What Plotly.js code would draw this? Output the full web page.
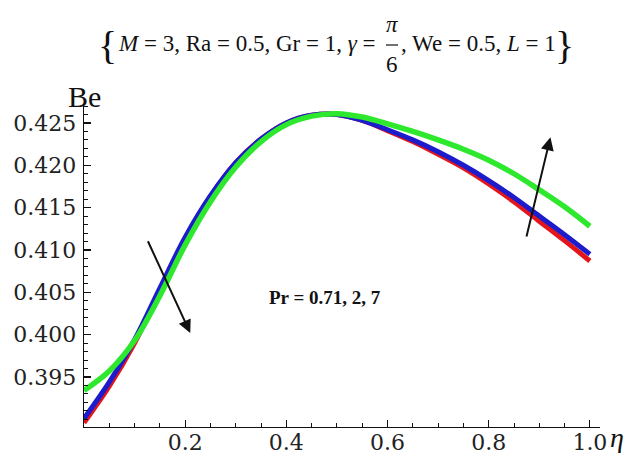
<!DOCTYPE html>
<html>
<head>
<meta charset="utf-8">
<script src="https://cdn.plot.ly/plotly-3.0.1.min.js"></script>
<style>html,body{margin:0;padding:0;background:#fff;}#chart{width:630px;height:455px;}</style>
</head>
<body>
<div id="chart"></div>
<script>
// ---- data ----
const eta = [0, 0.05, 0.1, 0.15, 0.2, 0.25, 0.3, 0.35, 0.4, 0.45, 0.5, 0.55, 0.6, 0.65, 0.7, 0.75, 0.8, 0.85, 0.9, 0.95, 1.0];
const bePr071 = [0.3896, 0.3939, 0.3990, 0.4052, 0.4113, 0.4163, 0.4203, 0.4231, 0.4250, 0.4259, 0.4260, 0.4253, 0.4241, 0.4228, 0.4213, 0.4197, 0.4178, 0.4157, 0.4134, 0.4111, 0.4087];
const bePr2   = [0.3901, 0.3944, 0.3994, 0.4055, 0.4115, 0.4164, 0.4203, 0.4231, 0.4250, 0.4259, 0.4260, 0.4253, 0.4242, 0.4230, 0.4216, 0.4200, 0.4182, 0.4162, 0.4140, 0.4118, 0.4095];
const bePr7   = [0.3934, 0.3957, 0.3993, 0.4046, 0.4106, 0.4157, 0.4198, 0.4228, 0.4248, 0.4258, 0.4261, 0.4257, 0.4249, 0.4240, 0.4230, 0.4219, 0.4206, 0.4190, 0.4171, 0.4151, 0.4128];
const yTickVals = [0.395, 0.400, 0.405, 0.410, 0.415, 0.420, 0.425];
const xTickVals = [0.2, 0.4, 0.6, 0.8, 1.0];
const prLabel = "Pr = 0.71, 2, 7";

// ---- layout helpers (pixel -> paper) ----
const L = 84, R = 30, T = 105, B = 28, W = 630, H = 455;
const PX = px => (px - L) / (W - L - R);
const PY = py => (H - B - py) / (H - T - B);

const serif = "Liberation Serif, Times New Roman, serif";
const tickFont = {family: "DejaVu Serif, serif", size: 22, color: "#222"};

const traces = [
  {x: eta, y: bePr071, mode: "lines", line: {color: "#e4161c", width: 5, shape: "spline", smoothing: 1}, name: "Pr = 0.71"},
  {x: eta, y: bePr2, mode: "lines", line: {color: "#1c1ccc", width: 5, shape: "spline", smoothing: 1}, name: "Pr = 2"},
  {x: eta, y: bePr7, mode: "lines", line: {color: "#2ee82e", width: 5.5, shape: "spline", smoothing: 1}, name: "Pr = 7"}
];

const ann = [
  // title pieces
  {xref: "paper", yref: "paper", x: PX(96), y: PY(45), xanchor: "left", yanchor: "middle", text: "{", font: {family: serif, size: 40, color: "#111"}, showarrow: false},
  {xref: "paper", yref: "paper", x: PX(116), y: PY(44), xanchor: "left", yanchor: "middle", text: "<i>M</i> = 3, Ra = 0.5, Gr = 1, <i>γ</i> =", font: {family: serif, size: 23, color: "#111"}, showarrow: false},
  {xref: "paper", yref: "paper", x: PX(392), y: PY(25), xanchor: "center", yanchor: "middle", text: "<i>π</i>", font: {family: serif, size: 23, color: "#111"}, showarrow: false},
  {xref: "paper", yref: "paper", x: PX(392), y: PY(64), xanchor: "center", yanchor: "middle", text: "6", font: {family: serif, size: 23, color: "#111"}, showarrow: false},
  {xref: "paper", yref: "paper", x: PX(399), y: PY(44), xanchor: "left", yanchor: "middle", text: ", We = 0.5, <i>L</i> = 1", font: {family: serif, size: 23, color: "#111"}, showarrow: false},
  {xref: "paper", yref: "paper", x: PX(553), y: PY(45), xanchor: "left", yanchor: "middle", text: "}", font: {family: serif, size: 40, color: "#111"}, showarrow: false},
  // axis labels
  {xref: "paper", yref: "paper", x: PX(66), y: PY(96), xanchor: "left", yanchor: "middle", text: "Be", font: {family: serif, size: 30, color: "#111"}, showarrow: false},
  {xref: "paper", yref: "paper", x: PX(608), y: PY(438), xanchor: "left", yanchor: "middle", text: "<i>η</i>", font: {family: serif, size: 28, color: "#111"}, showarrow: false},
  // Pr label
  {x: 0.477, y: 0.4044, xref: "x", yref: "y", text: "<b>" + prLabel + "</b>", font: {family: serif, size: 19, color: "#111"}, showarrow: false},
  // arrows
  {x: 0.210, y: 0.4002, ax: 0.125, ay: 0.4112, xref: "x", yref: "y", axref: "x", ayref: "y", text: "", showarrow: true, arrowhead: 2, arrowsize: 1.3, arrowwidth: 2, arrowcolor: "#111"},
  {x: 0.922, y: 0.4233, ax: 0.874, ay: 0.4114, xref: "x", yref: "y", axref: "x", ayref: "y", text: "", showarrow: true, arrowhead: 2, arrowsize: 1.3, arrowwidth: 2, arrowcolor: "#111"}
];

const shapes = [
  {type: "line", xref: "paper", yref: "paper", x0: PX(386), x1: PX(398), y0: PY(45), y1: PY(45), line: {color: "#111", width: 1.2}}
];

const layout = {
  width: W, height: H,
  margin: {l: L, r: R, t: T, b: B, pad: 0},
  paper_bgcolor: "#fff", plot_bgcolor: "#fff",
  showlegend: false,
  xaxis: {
    range: [0, 1.02], showgrid: false, zeroline: false,
    showline: true, linecolor: "#111", linewidth: 1.3,
    tickmode: "array", tickvals: xTickVals, ticktext: xTickVals.map(v => v.toFixed(1)),
    ticks: "inside", ticklen: 7, tickwidth: 1.2, tickcolor: "#111",
    minor: {dtick: 0.05, tick0: 0, ticks: "inside", ticklen: 4, tickwidth: 1, tickcolor: "#111"},
    tickfont: tickFont, ticklabelstandoff: -5
  },
  yaxis: {
    range: [0.38909, 0.42712], showgrid: false, zeroline: false,
    showline: true, linecolor: "#111", linewidth: 1.3,
    tickmode: "array", tickvals: yTickVals, ticktext: yTickVals.map(v => v.toFixed(3)),
    ticks: "inside", ticklen: 7, tickwidth: 1.2, tickcolor: "#111",
    minor: {dtick: 0.001, tick0: 0.39, ticks: "inside", ticklen: 4, tickwidth: 1, tickcolor: "#111"},
    tickfont: tickFont, ticklabelstandoff: 2
  },
  annotations: ann,
  shapes: shapes
};

Plotly.newPlot("chart", traces, layout, {displayModeBar: false, staticPlot: true});
</script>
</body>
</html>
